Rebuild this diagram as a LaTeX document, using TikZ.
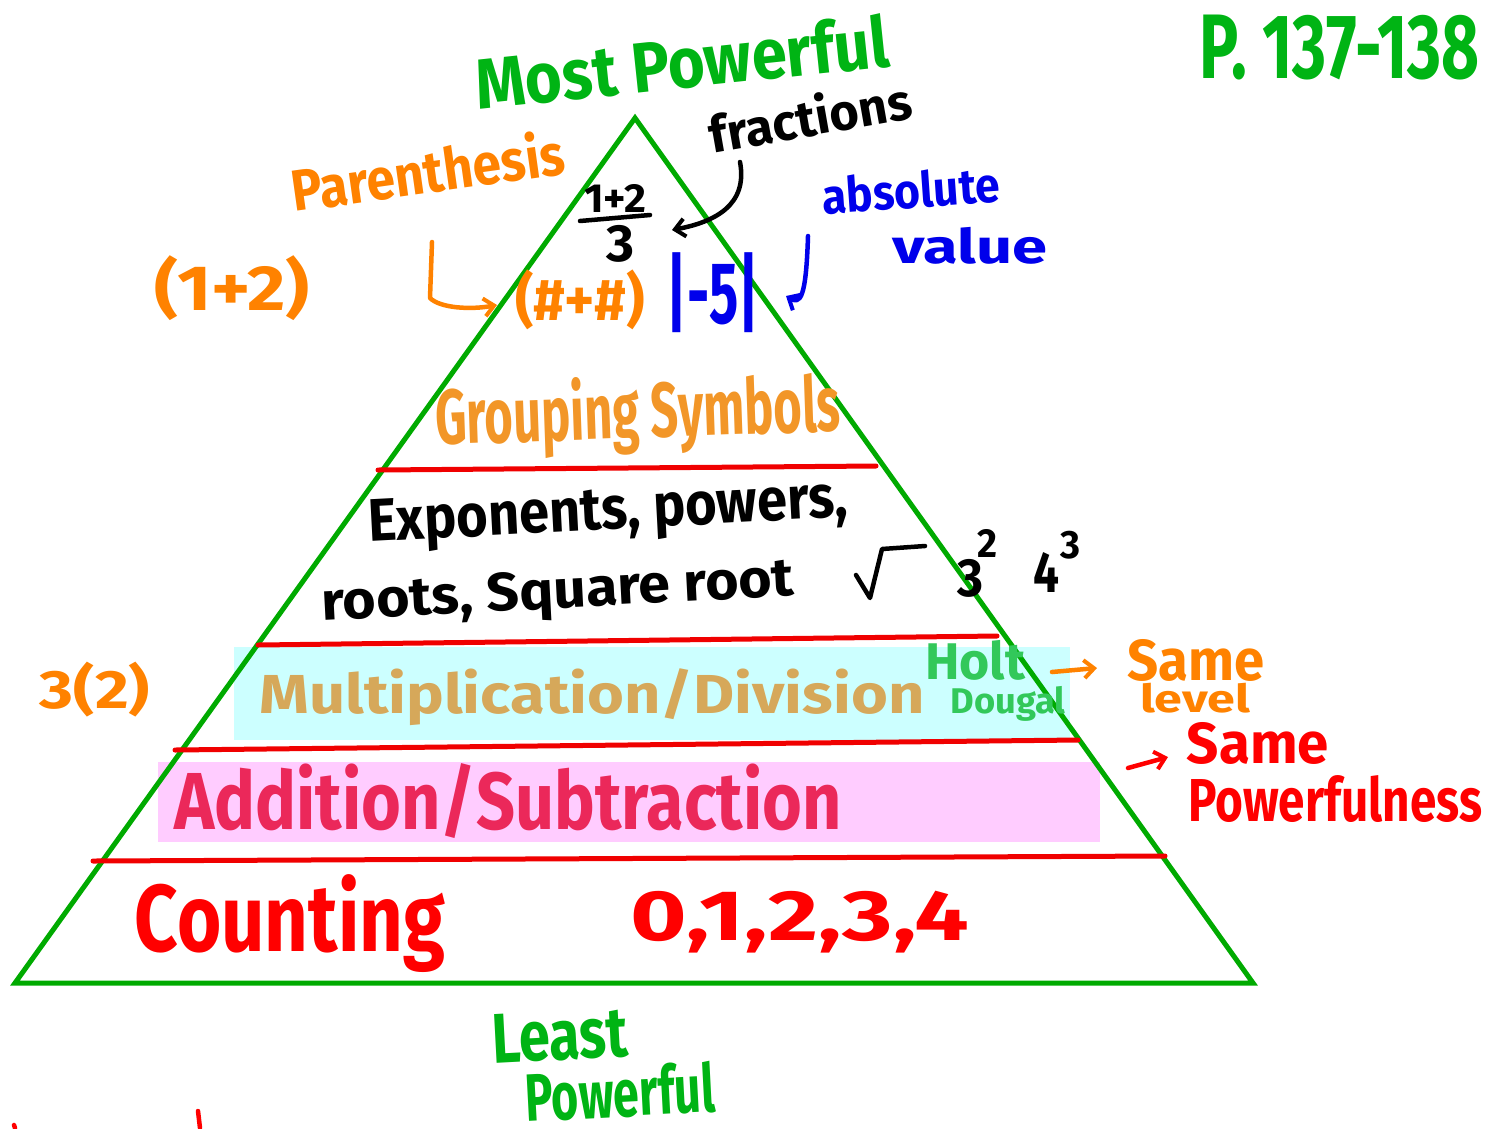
\documentclass[tikz,border=0pt]{standalone}
\usepackage{fontspec}
\setmainfont{Fira Sans}
\usetikzlibrary{arrows.meta}
\definecolor{tri}{RGB}{0,170,0}
\definecolor{gtext}{RGB}{0,180,20}
\definecolor{holt}{RGB}{50,200,90}
\definecolor{rline}{RGB}{240,0,0}
\definecolor{rtext}{RGB}{255,0,0}
\definecolor{ora}{RGB}{255,130,0}
\definecolor{grp}{RGB}{242,150,40}
\definecolor{tan}{RGB}{214,168,90}
\definecolor{addc}{RGB}{235,40,90}
\definecolor{blu}{RGB}{0,0,235}
\definecolor{cyanbox}{RGB}{204,255,255}
\definecolor{pinkbox}{RGB}{255,204,255}
\tikzset{
  hw/.style={inner sep=0pt, font=\bfseries},
  edge/.style={tri, line width=5pt, line join=miter},
  band/.style={rline, line width=5pt, line cap=round},
  pen/.style={line width=4.5pt, line cap=round, line join=round},
  tip/.style={-{Straight Barb[length=10pt,width=18pt,line width=4pt]}}
}
\newcommand{\fitw}[2]{\resizebox{#1pt}{!}{#2}}
\newcommand{\fitb}[3]{\resizebox*{#1pt}{#2pt}{#3}}
\begin{document}
\begin{tikzpicture}[x=1pt,y=-1pt]
\useasboundingbox (0,0) rectangle (1490,1128);
% highlight boxes
\fill[cyanbox] (234,647) rectangle (1070,740);
\fill[pinkbox] (158,762) rectangle (1100,842);
% pyramid
\coordinate (apex) at (635,118);
\coordinate (bl) at (15,983);
\coordinate (br) at (1253,983);
\draw[edge] (apex) -- (bl) -- (br) -- cycle;
% level lines
\draw[band] (378,470) -- (876,466);
\draw[band] (258,645) -- (997,636);
\draw[band] (175,750) -- (1078,740);
\draw[band] (93,861) -- (1165,856);
% titles
\node[hw, gtext, rotate=6] (most) at (682,62) {\fitb{415}{55}{Most Powerful}};
\node[hw, gtext] (page) at (1340,48) {\fitb{280}{65}{P. 137-138}};
\node[hw, gtext, rotate=3] (least) at (560,1036) {\fitb{136}{50}{Least}};
\node[hw, gtext, rotate=3] (leastp) at (620,1092) {\fitb{190}{52}{Powerful}};
% top annotations
\node[hw, black, rotate=10] (fractions) at (810,116) {\fitb{205}{42}{fractions}};
\node[hw, ora, rotate=8] (paren) at (428,170) {\fitb{275}{48}{Parenthesis}};
\node[hw, blu, rotate=4] (abs) at (911,190) {\fitb{178}{38}{absolute}};
\node[hw, blu] (val) at (970,246) {\fitb{155}{37}{value}};
\node[hw, ora] (ex12) at (232,288) {\fitb{155}{65}{(1+2)}};
\node[hw, ora] (hash) at (580,300) {\fitb{130}{60}{(\#+\#)}};
\node[hw, blu] (abs5) at (713,293) {\fitb{92}{80}{|-5|}};
\node[hw, black] (fnum) at (615,198) {\fitb{62}{28}{1+2}};
\draw[black, pen] (580,221) -- (650,215);
\node[hw, black] (fden) at (620,244) {\fitb{28}{37}{3}};
% connectors at top
\coordinate (fracstart) at (740,162);
\coordinate (fracend) at (672,230);
\draw[black, pen, tip] (fracstart) .. controls (748,205) and (715,222) .. (fracend);
\coordinate (parstart) at (432,242);
\coordinate (parend) at (497,305);
\draw[ora, pen, tip] (parstart) -- (430,298) .. controls (440,308) and (470,310) .. (parend);
\coordinate (absstart) at (808,236);
\coordinate (absend) at (786,296);
\draw[blu, pen, tip] (absstart) .. controls (806,300) and (800,304) .. (absend);
% levels text
\node[hw, grp, rotate=2] (grouping) at (638,415) {\fitb{405}{80}{Grouping Symbols}};
\node[hw, black, rotate=3] (expo) at (608,515) {\fitb{480}{55}{Exponents, powers,}};
\node[hw, black, rotate=3] (roots) at (558,595) {\fitb{473}{50}{roots, Square root}};
\draw[black, pen] (856,575) -- (870,598) -- (882,549) -- (925,546);
\node[hw, black] (three) at (970,578) {\fitb{26}{38}{3}};
\node[hw, black] (two) at (987,543) {\fitb{20}{28}{2}};
\node[hw, black] (four) at (1046,572) {\fitb{26}{40}{4}};
\node[hw, black] (three2) at (1070,545) {\fitb{20}{28}{3}};
\node[hw, ora] (ex32) at (95,690) {\fitb{110}{55}{3(2)}};
\node[hw, tan] (mult) at (592,697) {\fitb{665}{57}{Multiplication/Division}};
\node[hw, holt] (holt) at (975,660) {\fitb{100}{40}{Holt}};
\node[hw, holt] (dougal) at (1008,704) {\fitb{115}{35}{Dougal}};
\node[hw, addc] (add) at (508,801) {\fitb{667}{75}{Addition/Subtraction}};
\node[hw, rtext] (count) at (290,924) {\fitb{310}{98}{Counting}};
\node[hw, rtext] (nums) at (800,922) {\fitb{338}{62}{0,1,2,3,4}};
% right annotations
\node[hw, ora] (same1) at (1196,660) {\fitb{137}{42}{Same}};
\node[hw, ora] (level) at (1195,698) {\fitb{110}{30}{level}};
\node[hw, rtext] (same2) at (1258,743) {\fitb{142}{42}{Same}};
\node[hw, rtext] (powness) at (1335,799) {\fitb{294}{47}{Powerfulness}};
\coordinate (o1) at (1052,672);
\coordinate (o2) at (1097,668);
\draw[ora, pen, tip] (o1) -- (o2);
\coordinate (r1) at (1128,768);
\coordinate (r2) at (1168,757);
\draw[rtext, pen, tip] (r1) -- (r2);
% stray marks at bottom-left
\draw[rtext, pen] (14,1125) -- (15,1128);
\draw[rtext, pen] (198,1111) -- (200,1128);
\end{tikzpicture}
\end{document}
